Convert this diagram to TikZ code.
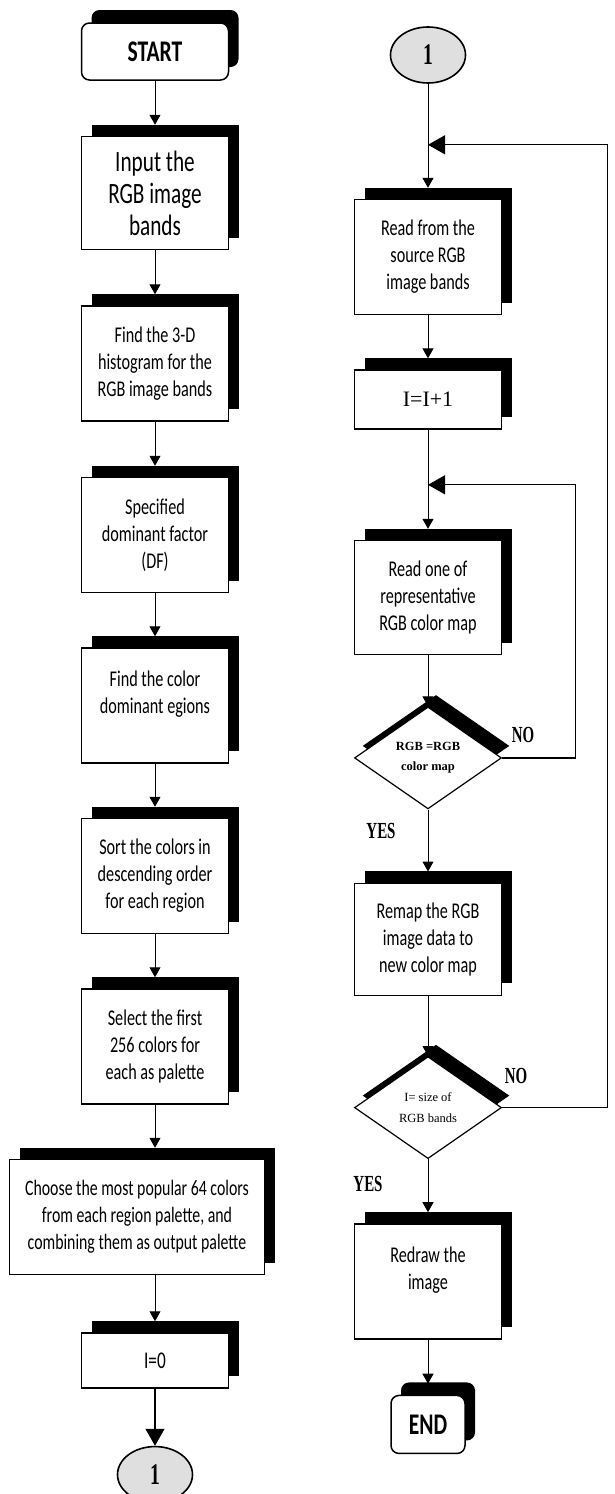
\documentclass[tikz,border=0pt]{standalone}
\usepackage{fontspec}
\setmainfont{Liberation Serif}
\newfontfamily\boxfont[FakeStretch=0.72]{Carlito}
\newfontfamily\tallfont[FakeStretch=0.65]{Liberation Serif}
\usetikzlibrary{arrows.meta, positioning, shapes.geometric, shadows, calc}

\begin{document}
\begin{tikzpicture}[
    box/.style={draw, line width=1.5pt, fill=white, align=center,
                minimum width=147pt, minimum height=115pt, inner sep=4pt,
                font=\boxfont\fontsize{22.5}{27}\selectfont,
                drop shadow={shadow xshift=10pt, shadow yshift=12pt, opacity=1, fill=black}},
    term/.style={draw, line width=1.5pt, fill=white, rounded corners=8pt,
                 minimum width=147pt, minimum height=57pt,
                 font=\boxfont\bfseries\fontsize{30}{32}\selectfont,
                 drop shadow={shadow xshift=10pt, shadow yshift=13pt, opacity=1, fill=black}},
    dec/.style={diamond, draw, line width=1.2pt, fill=white, align=center, aspect=1.44,
                minimum width=147pt, minimum height=102pt, inner sep=0pt,
                drop shadow={shadow xshift=8pt, shadow yshift=12pt, opacity=1, fill=black}},
    conn/.style={ellipse, draw, line width=1.6pt, fill=gray!25, minimum width=75pt,
                 minimum height=56pt, inner sep=0pt,
                 font=\tallfont\bfseries\fontsize{30}{30}\selectfont},
    yesno/.style={font=\tallfont\bfseries\fontsize{23}{23}\selectfont, inner sep=0pt},
    arr/.style={-{Triangle[length=10pt, width=11pt]}, line width=1pt},
    bigarr/.style={-{Triangle[length=17pt, width=19pt]}, line width=1.2pt},
]
    \useasboundingbox (0,0) rectangle (615pt,-1494pt);

    %==================== LEFT COLUMN ====================
    \node[term] (start) at (155pt,-51.5pt) {START};
    \node[box, below=55pt of start, minimum height=113pt,
          font=\boxfont\fontsize{29.5}{32}\selectfont] (input)
        {Input the\\ RGB image\\ bands};
    \node[box, below=55pt of input] (hist)
        {Find the 3-D\\ histogram for the\\ RGB image bands};
    \node[box, below=55pt of hist] (spec)
        {Specified\\ dominant factor\\ (DF)};
    \node[box, below=54pt of spec] (findreg)
        {Find the color\\ dominant egions\\ \mbox{}};
    \node[box, below=54pt of findreg] (sortcol)
        {Sort the colors in\\ descending order\\ for each region};
    \node[box, below=54pt of sortcol] (select)
        {Select the first\\ 256 colors for\\ each as palette};
    \node[box, below=54pt of select, xshift=-18pt, minimum width=255pt,
          font=\boxfont\fontsize{22}{27}\selectfont] (choose)
        {Choose the most popular 64 colors\\ from each region palette, and\\
         combining them as output palette};
    \node[box, below=57pt of choose, xshift=18pt, minimum height=55pt,
          font=\boxfont\fontsize{24}{26}\selectfont] (izero) {I=0};
    \node[conn, below=57pt of izero] (cleft) {1};

    \draw[arr] (start) -- ([yshift=11pt]input.north);
    \draw[arr] (input) -- ([yshift=11pt]hist.north);
    \draw[arr] (hist) -- ([yshift=11pt]spec.north);
    \draw[arr] (spec) -- ([yshift=11pt]findreg.north);
    \draw[arr] (findreg) -- ([yshift=11pt]sortcol.north);
    \draw[arr] (sortcol) -- ([yshift=11pt]select.north);
    \draw[arr] (select) -- ([yshift=11pt]select.south |- choose.north);
    \draw[arr] (choose.south -| izero) -- ([yshift=11pt]izero.north);
    \draw[bigarr] (izero) -- (cleft);

    %==================== RIGHT COLUMN ====================
    \node[conn] (cright) at (428pt,-55pt) {1};
    \coordinate[below=61pt of cright] (j1);
    \node[box, below=115pt of cright] (readsrc)
        {Read from the\\ source RGB\\ image bands};
    \node[box, below=54pt of readsrc, minimum height=59pt,
          font=\fontsize{22}{26}\selectfont] (inc) {I=I+1};
    \coordinate[below=55pt of inc] (j2);
    \node[box, below=110pt of inc, minimum height=114pt] (readmap)
        {Read one of\\ representative\\ RGB color map};
    \node[dec, below=51pt of readmap, font=\bfseries\fontsize{12.5}{20}\selectfont] (d1)
        {RGB =RGB\\ color map};
    \node[box, below=73pt of d1, minimum height=112pt] (remap)
        {Remap the RGB\\ image data to\\ new color map};
    \node[dec, below=60pt of remap, font=\fontsize{12.5}{21}\selectfont] (d2)
        {I= size of\\ RGB bands};
    \node[box, below=64pt of d2] (redraw)
        {Redraw the\\ image\\ \mbox{}};
    \node[term, below=55pt of redraw, minimum width=74pt, minimum height=58pt] (finish) {END};

    \draw[arr] (cright) -- ([yshift=11pt]readsrc.north);
    \draw[arr] (readsrc) -- ([yshift=11pt]inc.north);
    \draw[arr] (inc) -- ([yshift=11pt]readmap.north);
    \draw[arr] (readmap) -- (d1.north);
    \draw[arr] (d1.south) -- ([yshift=11pt]remap.north);
    \draw[arr] (remap) -- (d2.north);
    \draw[arr] (d2.south) -- ([yshift=11pt]redraw.north);
    \draw[arr] (redraw) -- ([yshift=11pt]finish.north);

    % loops back
    \coordinate (r1) at ([xshift=73.5pt]d1.east);
    \coordinate (r2) at ([xshift=105.5pt]d2.east);
    \draw[bigarr] (d1.east) -- (r1) |- (j2);
    \draw[bigarr] (d2.east) -- (r2) |- (j1);

    % branch labels
    \node[yesno] (no1) at ([xshift=21pt,yshift=23pt]d1.east) {NO};
    \node[yesno] (no2) at ([xshift=14pt,yshift=32pt]d2.east) {NO};
    \node[yesno] (yes1) at ([xshift=-47pt,yshift=-21pt]d1.south) {YES};
    \node[yesno] (yes2) at ([xshift=-60pt,yshift=-25pt]d2.south) {YES};

\end{tikzpicture}
\end{document}
